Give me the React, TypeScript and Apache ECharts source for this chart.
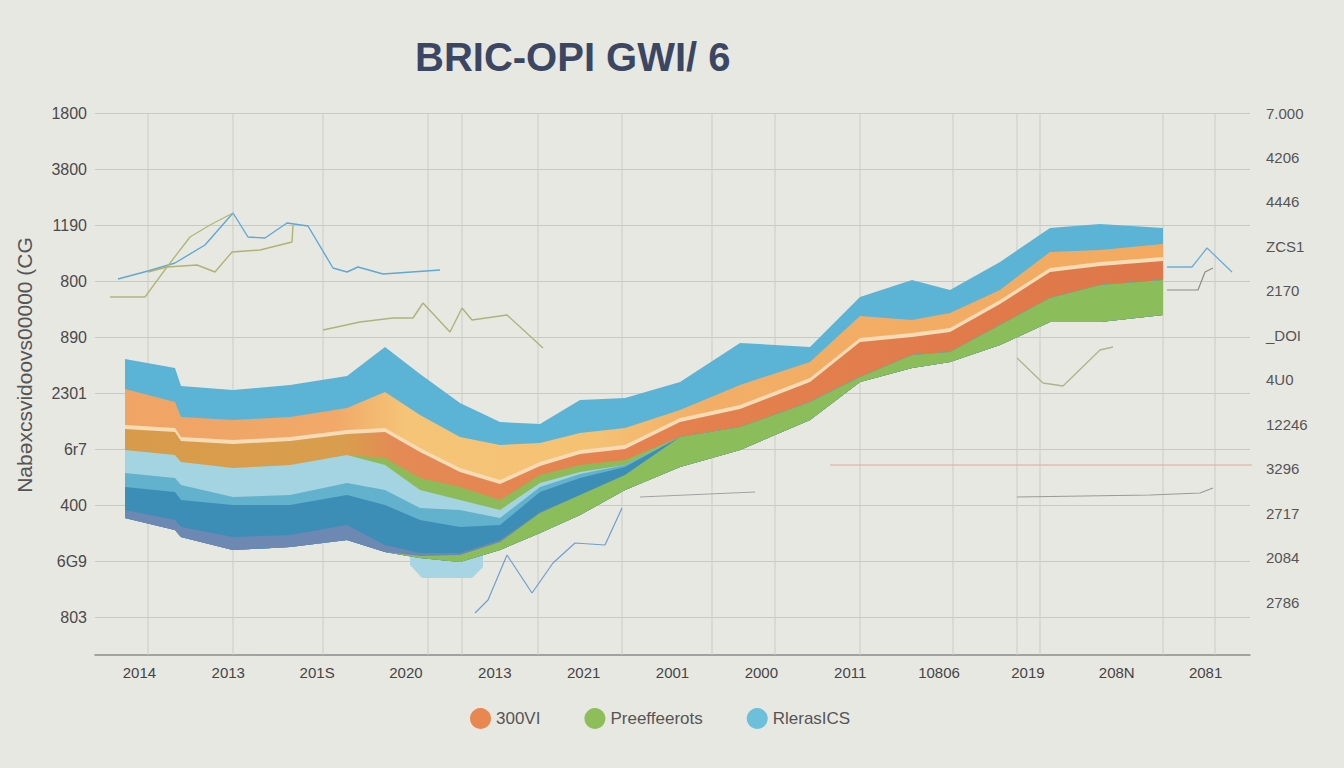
import React, { useEffect, useRef } from "react";
import * as echarts from "echarts";

const TITLE = "BRIC-OPI GWI/ 6";
const Y_NAME = "Nabəxcsvidoovs00000 (CG";
const X_LABELS = ["2014", "2013", "201S", "2020", "2013", "2021", "2001", "2000", "2011", "10806", "2019", "208N", "2081"];
// top to bottom
const LEFT_TICKS = ["1800", "3800", "1190", "800", "890", "2301", "6r7", "400", "6G9", "803"];
const RIGHT_TICKS = ["7.000", "4206", "4446", "ZCS1", "2170", "_DOI", "4U0", "12246", "3296", "2717", "2084", "2786"];
const LEGEND_NAMES = ["300VI", "Preeffeerots", "RlerasICS"];

// band layer positions along the hidden x scale
const X = [125, 175, 181, 233, 290, 347, 385, 420, 460, 500, 540, 580, 625, 680, 740, 810, 860, 912, 950, 1000, 1050, 1100, 1163];
// upper edge of each layer (left-axis units)
const BLUE_TOP = [258, 249, 231, 227, 232, 241, 270, 243, 214, 195, 193, 217, 219, 235, 274, 270, 320, 337, 327, 355, 389, 393, 389];
const ORANGE_TOP = [228, 215, 200, 197, 200, 209, 225, 202, 180, 172, 174, 184, 189, 207, 232, 255, 301, 297, 304, 327, 365, 367, 373];
const CREAM_TOP = [192, 189, 180, 177, 180, 187, 189, 169, 149, 137, 155, 167, 172, 199, 212, 239, 279, 284, 289, 317, 349, 355, 360];
const AMBER_TOP = [188, 185, 176, 173, 176, 183, 185, 165, 145, 133, 151, 163, 168, 195, 208, 235, 275, 280, 285, 313, 345, 351, 356];
const GREEN_UP_TOP = [167, 162, 155, 149, 152, 162, 159, 139, 130, 117, 142, 152, 157, 180, 190, 215, 240, 262, 265, 292, 319, 332, 337];
const LBLUE_TOP = [167, 162, 155, 149, 152, 162, 152, 127, 117, 107, 134, 145, 152, 180, 190, 215, 240, 262, 265, 292, 319, 332, 337];
const MBLUE_TOP = [144, 139, 132, 120, 122, 134, 127, 109, 107, 99, 130, 143, 152, 180, 190, 215, 240, 262, 265, 292, 319, 332, 337];
const DBLUE_TOP = [130, 125, 117, 112, 112, 122, 112, 97, 90, 92, 125, 139, 150, 180, 190, 215, 240, 262, 265, 292, 319, 332, 337];
const GREY_TOP = [107, 97, 90, 80, 82, 92, 72, 64, 64, 77, 105, 122, 142, 180, 190, 215, 240, 262, 265, 292, 319, 332, 337];
const GREEN_LOW_TOP = [99, 87, 80, 67, 70, 77, 65, 61, 62, 75, 104, 122, 142, 180, 190, 215, 240, 262, 265, 292, 319, 332, 337];
const STACK_BOTTOM = [99, 87, 80, 67, 70, 77, 65, 59, 55, 67, 84, 102, 127, 150, 167, 197, 235, 249, 255, 272, 295, 295, 302];

const CAP_X = [410, 422, 472, 483];
const CAP_TOP = [70, 65, 65, 70];
const CAP_BOTTOM = [52, 39, 39, 50];

// thin lines: [x, value]
const BLUE_LINE_TL = [[118, 338], [148, 346], [175, 354], [205, 372], [233, 404], [248, 380], [265, 379], [287, 394], [308, 391], [333, 349], [347, 345], [358, 350], [383, 343], [440, 347]];
const OLIVE_LINE_1 = [[110, 320], [145, 320], [167, 350], [190, 380], [210, 392], [233, 404]];
const OLIVE_LINE_2 = [[148, 345], [167, 350], [197, 352], [215, 345], [232, 365], [260, 367], [292, 375], [293, 392]];
const OLIVE_LINE_MID = [[323, 287], [360, 295], [393, 299], [413, 299], [423, 314], [450, 285], [462, 309], [472, 297], [507, 302], [543, 269]];
const BLUE_LINE_LOW = [[475, 4], [488, 17], [507, 62], [532, 24], [553, 54], [575, 74], [605, 72], [622, 109]];
const GREY_LINE_MID = [[640, 120], [755, 125]];
const OLIVE_LINE_R = [[1017, 259], [1043, 234], [1063, 231], [1100, 267], [1113, 270]];
const GREY_LINE_R = [[1017, 120], [1150, 122], [1200, 124], [1213, 129]];
const RED_LINE = [[830, 152], [1255, 152]];
const BLUE_LINE_R = [[1167, 350], [1192, 350], [1207, 369], [1232, 345]];
const GREY_LINE_RT = [[1167, 327], [1198, 327], [1205, 345], [1213, 349]];

const V_GRID = [148, 233, 323, 428, 462, 538, 622, 712, 775, 860, 953, 1017, 1040, 1163, 1215];

const FONT = "'Liberation Sans', Arial, sans-serif";

function grad(stops: [number, string][]) {
  return new echarts.graphic.LinearGradient(0, 0, 1, 0, stops.map(([offset, color]) => ({ offset, color })));
}

function band(name: string, xs: number[], top: number[], bottom: number[], fill: any) {
  return {
    type: "custom",
    name,
    xAxisIndex: 1,
    yAxisIndex: 0,
    clip: false,
    silent: true,
    z: 3,
    data: [[xs[0], top[0]]],
    renderItem: (_p: any, api: any) => {
      const pts: number[][] = [];
      xs.forEach((x, k) => pts.push(api.coord([x, top[k]])));
      for (let k = xs.length - 1; k >= 0; k--) pts.push(api.coord([xs[k], bottom[k]]));
      return { type: "polygon", shape: { points: pts }, style: { fill, stroke: null } };
    },
  };
}

function thin(name: string, data: number[][], color: string, width = 1.4) {
  return {
    type: "line",
    name,
    xAxisIndex: 1,
    yAxisIndex: 0,
    data,
    showSymbol: false,
    symbol: "none",
    clip: false,
    silent: true,
    z: 4,
    lineStyle: { color, width },
  };
}

export default function App() {
  const ref = useRef<HTMLDivElement>(null);
  useEffect(() => {
    if (!ref.current) return;
    const chart = echarts.init(ref.current, undefined, { renderer: "svg" });
    const vLines = V_GRID.map((x, i) => ({
      type: "line",
      name: "v" + i,
      xAxisIndex: 1,
      yAxisIndex: 0,
      data: [[x, -38], [x, 504]],
      showSymbol: false,
      symbol: "none",
      clip: false,
      silent: true,
      z: 1,
      lineStyle: { color: "#cbcbc6", width: 1 },
    }));
    const option: any = {
      animation: false,
      backgroundColor: "#e8e8e3",
      title: {
        text: TITLE,
        left: 410,
        top: 32,
        textStyle: { fontSize: 40, color: "#3b4663", fontWeight: "bold", fontFamily: FONT },
      },
      legend: {
        left: 465,
        top: 703,
        icon: "circle",
        itemWidth: 21,
        itemHeight: 21,
        itemGap: 44,
        selectedMode: false,
        textStyle: { fontSize: 17, color: "#555", fontFamily: FONT },
        data: [
          { name: LEGEND_NAMES[0], itemStyle: { color: "#e8874f" } },
          { name: LEGEND_NAMES[1], itemStyle: { color: "#8dbe5a" } },
          { name: LEGEND_NAMES[2], itemStyle: { color: "#6cc0dc" } },
        ],
      },
      grid: [
        { left: 95, right: 94, top: 113, bottom: 151 },
        { left: 95, right: 94, top: 113, bottom: 166 },
      ],
      xAxis: [
        {
          type: "category",
          gridIndex: 0,
          data: X_LABELS,
          offset: 38,
          boundaryGap: true,
          axisLine: { onZero: false, lineStyle: { color: "#8a8a88", width: 1.5 } },
          axisTick: { show: false },
          splitLine: { show: false },
          axisLabel: { color: "#444", fontSize: 15, margin: 10, fontFamily: FONT },
        },
        { type: "value", gridIndex: 0, min: 95, max: 1250, show: false },
        { type: "value", gridIndex: 1, min: 0, max: 1, show: false },
      ],
      yAxis: [
        {
          type: "value",
          gridIndex: 0,
          min: 0,
          max: 504,
          interval: 56,
          name: Y_NAME,
          nameLocation: "middle",
          nameRotate: 90,
          nameGap: 60,
          nameTextStyle: { fontSize: 21, color: "#555", fontFamily: FONT },
          axisLine: { show: false },
          axisTick: { show: false },
          splitLine: { lineStyle: { color: "#c9c9c4", width: 1 } },
          axisLabel: {
            color: "#4a4a4a",
            fontSize: 16,
            margin: 8,
            fontFamily: FONT,
            formatter: (v: number) => LEFT_TICKS[LEFT_TICKS.length - 1 - Math.round(v / 56)] ?? "",
          },
        },
        {
          type: "value",
          gridIndex: 1,
          position: "right",
          min: 0,
          max: 11,
          interval: 1,
          axisLine: { show: false },
          axisTick: { show: false },
          splitLine: { show: false },
          axisLabel: {
            color: "#555",
            fontSize: 15,
            margin: 16,
            fontFamily: FONT,
            formatter: (v: number) => RIGHT_TICKS[11 - Math.round(v)] ?? "",
          },
        },
      ],
      series: [
        ...vLines,
        band("cap", CAP_X, CAP_TOP, CAP_BOTTOM, "#a7d5e3"),
        band(LEGEND_NAMES[2], X, BLUE_TOP, STACK_BOTTOM, "#5bb4d5"),
        band(LEGEND_NAMES[0], X, ORANGE_TOP, STACK_BOTTOM, grad([[0, "#f0a466"], [0.2, "#f1a868"], [0.27, "#f5c477"], [0.45, "#f5c274"], [0.56, "#f2ae67"], [1, "#f3aa60"]])),
        band("cream", X, CREAM_TOP, STACK_BOTTOM, "#f5dcb6"),
        band("amber", X, AMBER_TOP, STACK_BOTTOM, grad([[0, "#d89b4b"], [0.21, "#d99e4d"], [0.26, "#e48a55"], [0.5, "#e5814f"], [1, "#de7749"]])),
        band("greenUp", X, GREEN_UP_TOP, STACK_BOTTOM, "#8dbb59"),
        band("lightBlue", X, LBLUE_TOP, STACK_BOTTOM, "#a4d4e1"),
        band("midBlue", X, MBLUE_TOP, STACK_BOTTOM, "#62b2cd"),
        band("darkBlue", X, DBLUE_TOP, STACK_BOTTOM, "#3c8eb6"),
        band("greyBlue", X, GREY_TOP, STACK_BOTTOM, "#6d88b3"),
        band(LEGEND_NAMES[1], X, GREEN_LOW_TOP, STACK_BOTTOM, "#8cbd5b"),
        thin("blueTL", BLUE_LINE_TL, "#5ea9d2"),
        thin("olive1", OLIVE_LINE_1, "#b2b878"),
        thin("olive2", OLIVE_LINE_2, "#b0b36f"),
        thin("oliveMid", OLIVE_LINE_MID, "#adb479"),
        thin("blueLow", BLUE_LINE_LOW, "#6f9fcc", 1.2),
        thin("greyMid", GREY_LINE_MID, "#a0a4a0", 1.2),
        thin("oliveR", OLIVE_LINE_R, "#b0b48a", 1.3),
        thin("greyR", GREY_LINE_R, "#9a9a96", 1.2),
        thin("red", RED_LINE, "#e3a595", 1.2),
        thin("blueR", BLUE_LINE_R, "#6aaed6", 1.3),
        thin("greyRT", GREY_LINE_RT, "#8d8d86", 1.2),
      ],
    };
    chart.setOption(option);
    return () => chart.dispose();
  }, []);
  return (
    <div
      ref={ref}
      style={{ position: "fixed", left: 0, top: 0, width: 1344, height: 768, background: "#e8e8e3" }}
    />
  );
}
